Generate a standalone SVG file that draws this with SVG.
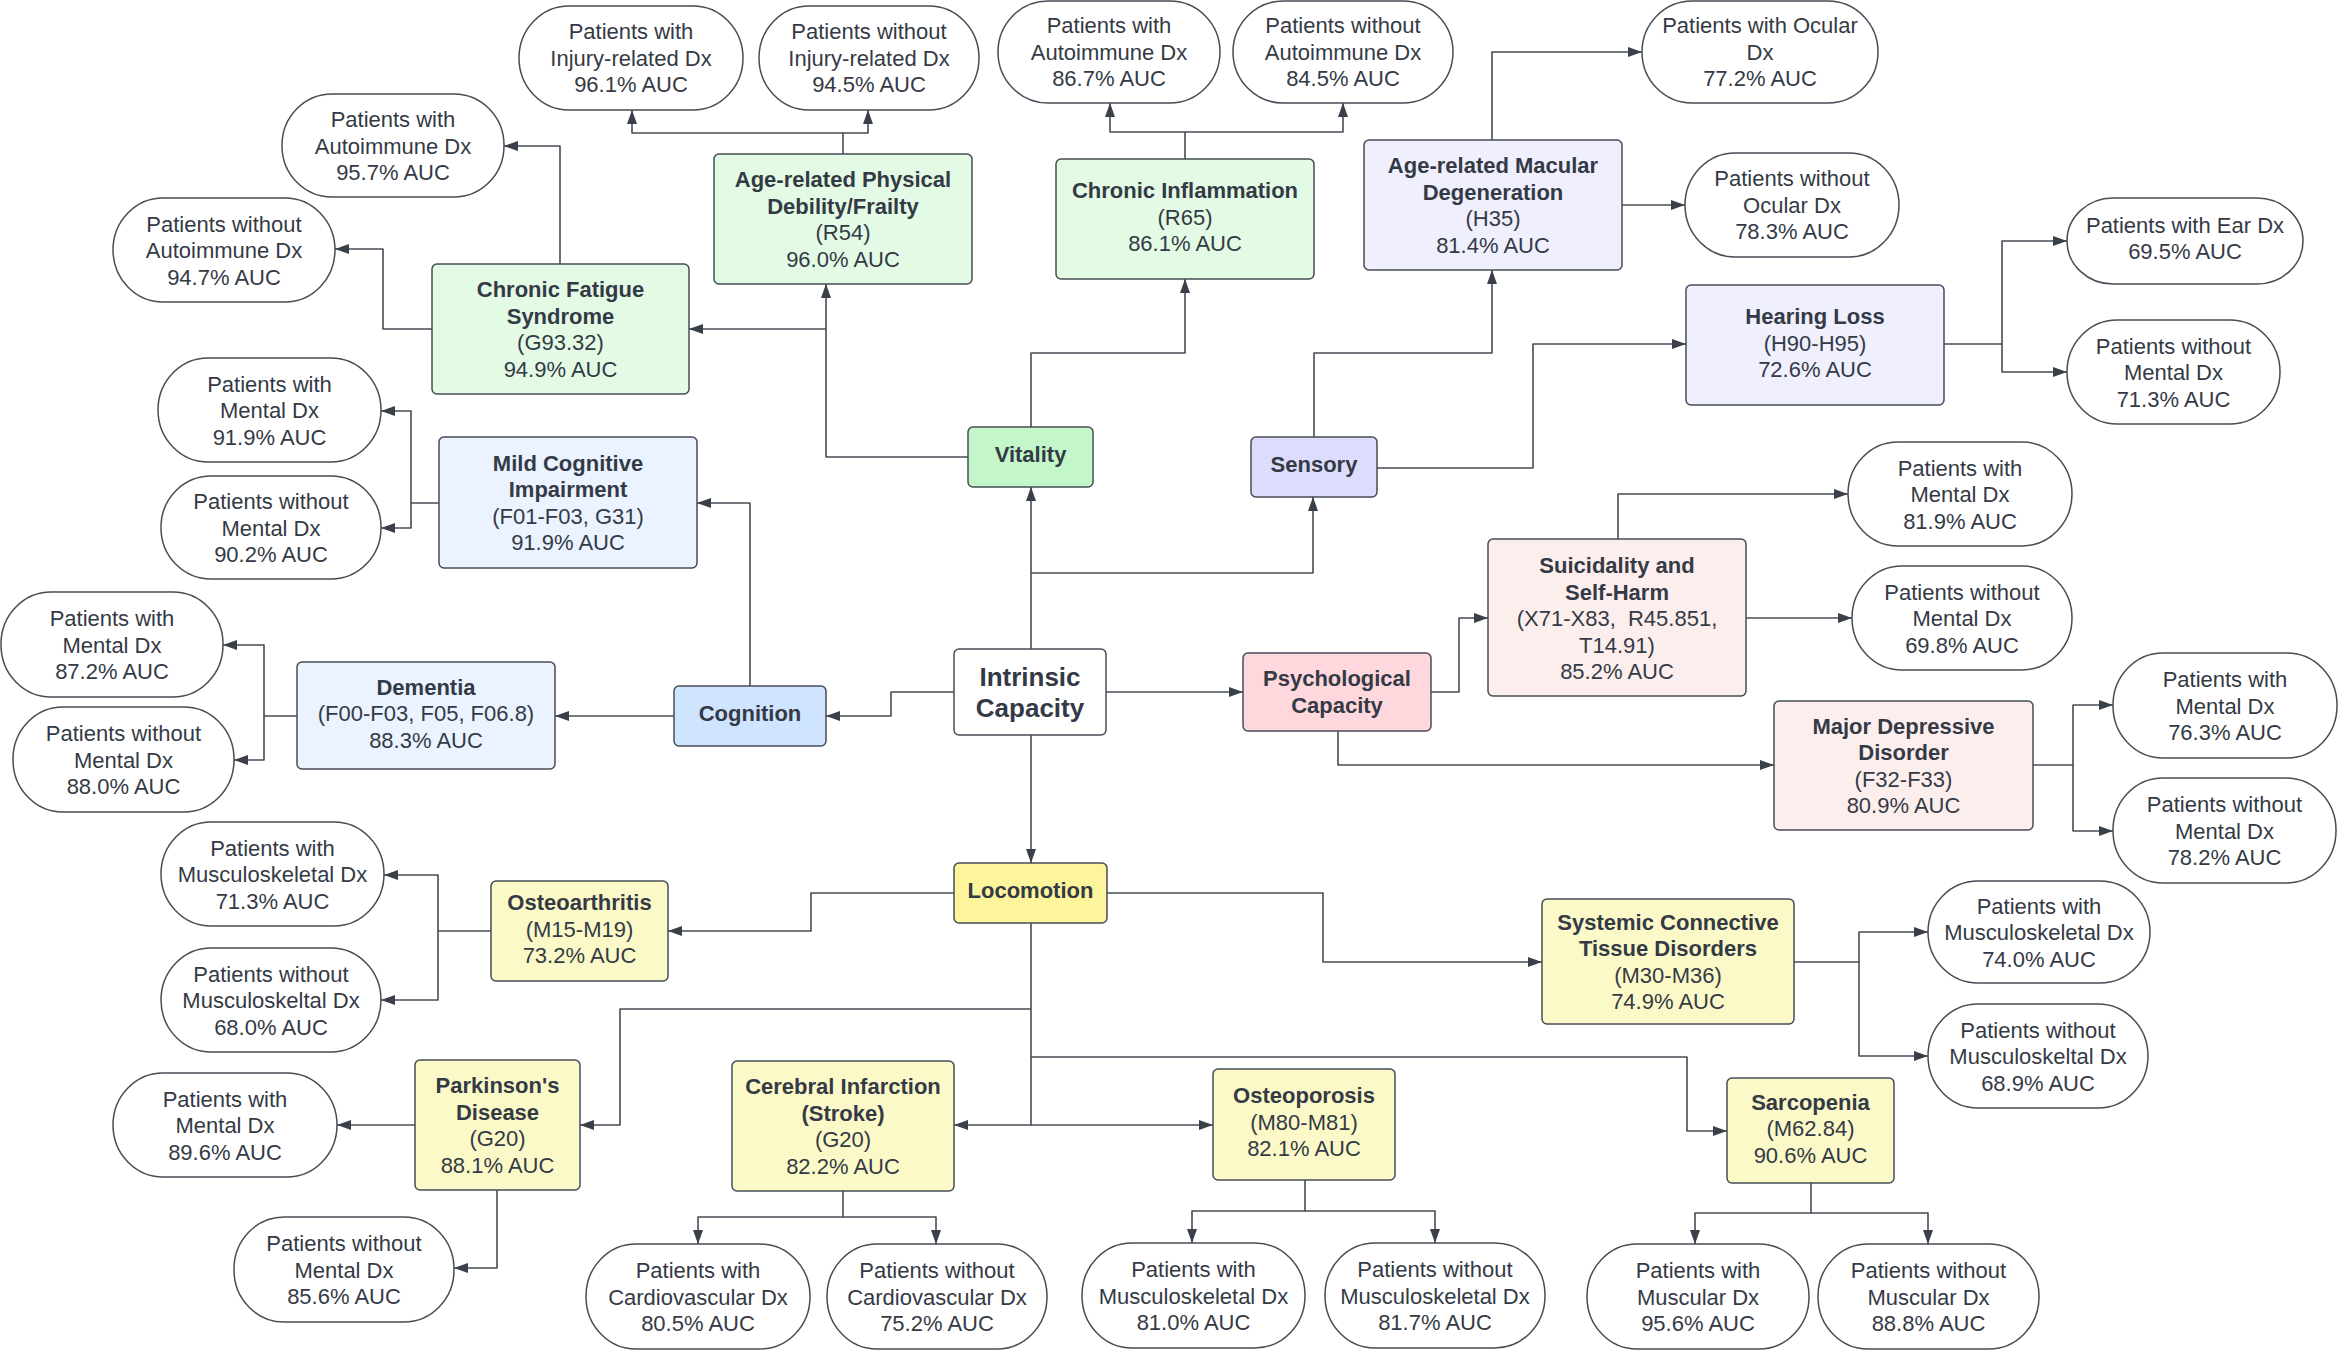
<svg xmlns="http://www.w3.org/2000/svg" width="2338" height="1350" viewBox="0 0 2338 1350">
<style>
text{font-family:"Liberation Sans",Arial,sans-serif;font-size:22px;fill:#343a45;text-anchor:middle}
.b{font-weight:bold}
.big{font-size:26px;font-weight:bold}
.n rect{stroke:#474d56;stroke-width:1.5}
.p rect{fill:#ffffff;stroke:#474d56;stroke-width:1.5}
.ic{fill:#ffffff}
.vit{fill:#c3f6c8}.vits{fill:#e3fae4}
.sen{fill:#dddcfc}.sens{fill:#efeffe}
.cog{fill:#cfe4ff}.cogs{fill:#eaf3ff}
.psy{fill:#fed8dc}.psys{fill:#fdeeee}
.loc{fill:#fdf59c}.locs{fill:#fbf9c8}
#connectors path{fill:none;stroke:#474d56;stroke-width:1.6;stroke-linejoin:round;marker-end:url(#ah)}
</style>
<defs>
<marker id="ah" viewBox="0 0 14 10" markerWidth="14" markerHeight="10" refX="14" refY="5" orient="auto" markerUnits="userSpaceOnUse">
<path d="M0,0 L14,5 L0,10 z" fill="#3a4049"/>
</marker>
</defs>
<rect width="2338" height="1350" fill="#ffffff"/>

<g id="connectors">
<path d="M1031,649 V487"/>
<path d="M1031,573 H1313 V497"/>
<path d="M954,692 H891 V716 H826"/>
<path d="M1106,692 H1243"/>
<path d="M1031,735 V863"/>
<path d="M968,457 H826 V284"/>
<path d="M826,329 H689"/>
<path d="M1031,427 V353 H1185 V279"/>
<path d="M843,154 V133 H632 V110"/>
<path d="M843,133 H868 V110"/>
<path d="M560,264 V146 H504"/>
<path d="M432,329 H383 V249 H335"/>
<path d="M1185,159 V132 H1110 V103"/>
<path d="M1185,132 H1343 V103"/>
<path d="M1314,437 V353 H1492 V270"/>
<path d="M1492,140 V52 H1642"/>
<path d="M1622,205 H1685"/>
<path d="M1377,468 H1533 V344 H1686"/>
<path d="M1944,344 H2002 V241 H2067"/>
<path d="M2002,344 V372 H2067"/>
<path d="M750,686 V503 H697"/>
<path d="M674,716 H555"/>
<path d="M439,503 H411 V411 H381"/>
<path d="M411,503 V528 H381"/>
<path d="M297,716 H264 V645 H223"/>
<path d="M264,716 V760 H234"/>
<path d="M1431,692 H1459 V618 H1488"/>
<path d="M1338,731 V765 H1774"/>
<path d="M1618,539 V494 H1848"/>
<path d="M1746,618 H1852"/>
<path d="M2033,765 H2073 V705 H2113"/>
<path d="M2073,765 V831 H2113"/>
<path d="M954,893 H811 V931 H668"/>
<path d="M491,931 H438 V875 H384"/>
<path d="M438,931 V1000 H381"/>
<path d="M1031,923 V1125 H954"/>
<path d="M1031,1125 H1213"/>
<path d="M1031,1009 H620 V1125 H580"/>
<path d="M1031,1057 H1687 V1131 H1727"/>
<path d="M1107,893 H1323 V962 H1542"/>
<path d="M415,1125 H337"/>
<path d="M497,1190 V1268 H454"/>
<path d="M843,1191 V1217 H698 V1244"/>
<path d="M843,1217 H936 V1244"/>
<path d="M1305,1180 V1211 H1192 V1243"/>
<path d="M1305,1211 H1435 V1243"/>
<path d="M1794,962 H1859 V932 H1928"/>
<path d="M1859,962 V1056 H1928"/>
<path d="M1811,1183 V1213 H1695 V1244"/>
<path d="M1811,1213 H1928 V1244"/>
</g>

<!-- central and domain nodes -->
<g id="intrinsic" class="n"><rect class="ic" x="954" y="649" width="152" height="86" rx="5"/><text class="big" x="1030" y="685.5">Intrinsic</text><text class="big" x="1030" y="717">Capacity</text></g>
<g id="vitality" class="n"><rect class="vit" x="968" y="427" width="125" height="60" rx="5"/><text class="b" x="1030.5" y="462">Vitality</text></g>
<g id="sensory" class="n"><rect class="sen" x="1251" y="437" width="126" height="60" rx="5"/><text class="b" x="1314" y="472">Sensory</text></g>
<g id="cognition" class="n"><rect class="cog" x="674" y="686" width="152" height="60" rx="5"/><text class="b" x="750" y="721">Cognition</text></g>
<g id="psych" class="n"><rect class="psy" x="1243" y="653" width="188" height="78" rx="5"/><text class="b" x="1337" y="686">Psychological</text><text class="b" x="1337" y="712.5">Capacity</text></g>
<g id="locomotion" class="n"><rect class="loc" x="954" y="863" width="153" height="60" rx="5"/><text class="b" x="1030.5" y="898">Locomotion</text></g>

<!-- condition nodes -->
<g id="cfs" class="n"><rect class="vits" x="432" y="264" width="257" height="130" rx="5"/><text class="b" x="560.5" y="297.25">Chronic Fatigue</text><text class="b" x="560.5" y="323.75">Syndrome</text><text x="560.5" y="350.25">(G93.32)</text><text x="560.5" y="376.75">94.9% AUC</text></g>
<g id="frailty" class="n"><rect class="vits" x="714" y="154" width="258" height="130" rx="5"/><text class="b" x="843" y="187.25">Age-related Physical</text><text class="b" x="843" y="213.75">Debility/Frailty</text><text x="843" y="240.25">(R54)</text><text x="843" y="266.75">96.0% AUC</text></g>
<g id="inflammation" class="n"><rect class="vits" x="1056" y="159" width="258" height="120" rx="5"/><text class="b" x="1185" y="198">Chronic Inflammation</text><text x="1185" y="224.5">(R65)</text><text x="1185" y="251">86.1% AUC</text></g>
<g id="amd" class="n"><rect class="sens" x="1364" y="140" width="258" height="130" rx="5"/><text class="b" x="1493" y="173.25">Age-related Macular</text><text class="b" x="1493" y="199.75">Degeneration</text><text x="1493" y="226.25">(H35)</text><text x="1493" y="252.75">81.4% AUC</text></g>
<g id="hearing" class="n"><rect class="sens" x="1686" y="285" width="258" height="120" rx="5"/><text class="b" x="1815" y="324">Hearing Loss</text><text x="1815" y="350.5">(H90-H95)</text><text x="1815" y="377">72.6% AUC</text></g>
<g id="mci" class="n"><rect class="cogs" x="439" y="437" width="258" height="131" rx="5"/><text class="b" x="568" y="470.75">Mild Cognitive</text><text class="b" x="568" y="497.25">Impairment</text><text x="568" y="523.75">(F01-F03, G31)</text><text x="568" y="550.25">91.9% AUC</text></g>
<g id="dementia" class="n"><rect class="cogs" x="297" y="662" width="258" height="107" rx="5"/><text class="b" x="426" y="694.5">Dementia</text><text x="426" y="721">(F00-F03, F05, F06.8)</text><text x="426" y="747.5">88.3% AUC</text></g>
<g id="suicidality" class="n"><rect class="psys" x="1488" y="539" width="258" height="157" rx="5"/><text class="b" x="1617" y="573">Suicidality and</text><text class="b" x="1617" y="599.5">Self-Harm</text><text x="1617" y="626" xml:space="preserve">(X71-X83,  R45.851,</text><text x="1617" y="652.5">T14.91)</text><text x="1617" y="679">85.2% AUC</text></g>
<g id="mdd" class="n"><rect class="psys" x="1774" y="701" width="259" height="129" rx="5"/><text class="b" x="1903.5" y="733.75">Major Depressive</text><text class="b" x="1903.5" y="760.25">Disorder</text><text x="1903.5" y="786.75">(F32-F33)</text><text x="1903.5" y="813.25">80.9% AUC</text></g>
<g id="osteoarthritis" class="n"><rect class="locs" x="491" y="881" width="177" height="100" rx="5"/><text class="b" x="579.5" y="910">Osteoarthritis</text><text x="579.5" y="936.5">(M15-M19)</text><text x="579.5" y="963">73.2% AUC</text></g>
<g id="sctd" class="n"><rect class="locs" x="1542" y="899" width="252" height="125" rx="5"/><text class="b" x="1668" y="929.75">Systemic Connective</text><text class="b" x="1668" y="956.25">Tissue Disorders</text><text x="1668" y="982.75">(M30-M36)</text><text x="1668" y="1009.25">74.9% AUC</text></g>
<g id="parkinsons" class="n"><rect class="locs" x="415" y="1060" width="165" height="130" rx="5"/><text class="b" x="497.5" y="1093.25">Parkinson's</text><text class="b" x="497.5" y="1119.75">Disease</text><text x="497.5" y="1146.25">(G20)</text><text x="497.5" y="1172.75">88.1% AUC</text></g>
<g id="stroke" class="n"><rect class="locs" x="732" y="1061" width="222" height="130" rx="5"/><text class="b" x="843" y="1094.25">Cerebral Infarction</text><text class="b" x="843" y="1120.75">(Stroke)</text><text x="843" y="1147.25">(G20)</text><text x="843" y="1173.75">82.2% AUC</text></g>
<g id="osteoporosis" class="n"><rect class="locs" x="1213" y="1069" width="182" height="111" rx="5"/><text class="b" x="1304" y="1103">Osteoporosis</text><text x="1304" y="1129.5">(M80-M81)</text><text x="1304" y="1156">82.1% AUC</text></g>
<g id="sarcopenia" class="n"><rect class="locs" x="1727" y="1078" width="167" height="105" rx="5"/><text class="b" x="1810.5" y="1109.5">Sarcopenia</text><text x="1810.5" y="1136">(M62.84)</text><text x="1810.5" y="1162.5">90.6% AUC</text></g>

<!-- outcome nodes -->
<g id="p1" class="p"><rect x="519" y="6" width="224" height="104" rx="50" ry="52"/><text x="631" y="39">Patients with</text><text x="631" y="65.5">Injury-related Dx</text><text x="631" y="92">96.1% AUC</text></g>
<g id="p2" class="p"><rect x="759" y="6" width="220" height="104" rx="50" ry="52"/><text x="869" y="39">Patients without</text><text x="869" y="65.5">Injury-related Dx</text><text x="869" y="92">94.5% AUC</text></g>
<g id="p3" class="p"><rect x="282" y="94" width="222" height="103" rx="50" ry="51"/><text x="393" y="127">Patients with</text><text x="393" y="153.5">Autoimmune Dx</text><text x="393" y="180">95.7% AUC</text></g>
<g id="p4" class="p"><rect x="113" y="198" width="222" height="104" rx="50" ry="52"/><text x="224" y="231.5">Patients without</text><text x="224" y="258">Autoimmune Dx</text><text x="224" y="284.5">94.7% AUC</text></g>
<g id="p5" class="p"><rect x="998" y="1" width="222" height="102" rx="50" ry="51"/><text x="1109" y="33">Patients with</text><text x="1109" y="59.5">Autoimmune Dx</text><text x="1109" y="86">86.7% AUC</text></g>
<g id="p6" class="p"><rect x="1233" y="1" width="220" height="102" rx="50" ry="51"/><text x="1343" y="33">Patients without</text><text x="1343" y="59.5">Autoimmune Dx</text><text x="1343" y="86">84.5% AUC</text></g>
<g id="p7" class="p"><rect x="1642" y="1" width="236" height="102" rx="50" ry="51"/><text x="1760" y="33">Patients with Ocular</text><text x="1760" y="59.5">Dx</text><text x="1760" y="86">77.2% AUC</text></g>
<g id="p8" class="p"><rect x="1685" y="153" width="214" height="104" rx="50" ry="52"/><text x="1792" y="186">Patients without</text><text x="1792" y="212.5">Ocular Dx</text><text x="1792" y="239">78.3% AUC</text></g>
<g id="p9" class="p"><rect x="2067" y="198" width="236" height="86" rx="46" ry="43"/><text x="2185" y="232.5">Patients with Ear Dx</text><text x="2185" y="259">69.5% AUC</text></g>
<g id="p10" class="p"><rect x="2067" y="320" width="213" height="104" rx="50" ry="52"/><text x="2173.5" y="353.5">Patients without</text><text x="2173.5" y="380">Mental Dx</text><text x="2173.5" y="406.5">71.3% AUC</text></g>
<g id="p11" class="p"><rect x="158" y="358" width="223" height="104" rx="50" ry="52"/><text x="269.5" y="391.5">Patients with</text><text x="269.5" y="418">Mental Dx</text><text x="269.5" y="444.5">91.9% AUC</text></g>
<g id="p12" class="p"><rect x="161" y="476" width="220" height="103" rx="50" ry="51"/><text x="271" y="509">Patients without</text><text x="271" y="535.5">Mental Dx</text><text x="271" y="562">90.2% AUC</text></g>
<g id="p13" class="p"><rect x="1" y="592" width="222" height="105" rx="50" ry="52"/><text x="112" y="626">Patients with</text><text x="112" y="652.5">Mental Dx</text><text x="112" y="679">87.2% AUC</text></g>
<g id="p14" class="p"><rect x="13" y="707" width="221" height="105" rx="50" ry="52"/><text x="123.5" y="741">Patients without</text><text x="123.5" y="767.5">Mental Dx</text><text x="123.5" y="794">88.0% AUC</text></g>
<g id="p15" class="p"><rect x="1848" y="442" width="224" height="104" rx="50" ry="52"/><text x="1960" y="475.5">Patients with</text><text x="1960" y="502">Mental Dx</text><text x="1960" y="528.5">81.9% AUC</text></g>
<g id="p16" class="p"><rect x="1852" y="566" width="220" height="104" rx="50" ry="52"/><text x="1962" y="599.5">Patients without</text><text x="1962" y="626">Mental Dx</text><text x="1962" y="652.5">69.8% AUC</text></g>
<g id="p17" class="p"><rect x="2113" y="653" width="224" height="105" rx="50" ry="52"/><text x="2225" y="687">Patients with</text><text x="2225" y="713.5">Mental Dx</text><text x="2225" y="740">76.3% AUC</text></g>
<g id="p18" class="p"><rect x="2113" y="778" width="223" height="105" rx="50" ry="52"/><text x="2224.5" y="812">Patients without</text><text x="2224.5" y="838.5">Mental Dx</text><text x="2224.5" y="865">78.2% AUC</text></g>
<g id="p19" class="p"><rect x="161" y="822" width="223" height="104" rx="50" ry="52"/><text x="272.5" y="855.5">Patients with</text><text x="272.5" y="882">Musculoskeletal Dx</text><text x="272.5" y="908.5">71.3% AUC</text></g>
<g id="p20" class="p"><rect x="161" y="948" width="220" height="104" rx="50" ry="52"/><text x="271" y="981.5">Patients without</text><text x="271" y="1008">Musculoskeltal Dx</text><text x="271" y="1034.5">68.0% AUC</text></g>
<g id="p21" class="p"><rect x="1928" y="881" width="222" height="102" rx="50" ry="51"/><text x="2039" y="913.5">Patients with</text><text x="2039" y="940">Musculoskeletal Dx</text><text x="2039" y="966.5">74.0% AUC</text></g>
<g id="p22" class="p"><rect x="1928" y="1004" width="220" height="104" rx="50" ry="52"/><text x="2038" y="1037.5">Patients without</text><text x="2038" y="1064">Musculoskeltal Dx</text><text x="2038" y="1090.5">68.9% AUC</text></g>
<g id="p23" class="p"><rect x="113" y="1073" width="224" height="104" rx="50" ry="52"/><text x="225" y="1106.5">Patients with</text><text x="225" y="1133">Mental Dx</text><text x="225" y="1159.5">89.6% AUC</text></g>
<g id="p24" class="p"><rect x="234" y="1217" width="220" height="105" rx="50" ry="52"/><text x="344" y="1251">Patients without</text><text x="344" y="1277.5">Mental Dx</text><text x="344" y="1304">85.6% AUC</text></g>
<g id="p25" class="p"><rect x="586" y="1244" width="224" height="105" rx="50" ry="52"/><text x="698" y="1278">Patients with</text><text x="698" y="1304.5">Cardiovascular Dx</text><text x="698" y="1331">80.5% AUC</text></g>
<g id="p26" class="p"><rect x="827" y="1244" width="220" height="105" rx="50" ry="52"/><text x="937" y="1278">Patients without</text><text x="937" y="1304.5">Cardiovascular Dx</text><text x="937" y="1331">75.2% AUC</text></g>
<g id="p27" class="p"><rect x="1082" y="1243" width="223" height="105" rx="50" ry="52"/><text x="1193.5" y="1277">Patients with</text><text x="1193.5" y="1303.5">Musculoskeletal Dx</text><text x="1193.5" y="1330">81.0% AUC</text></g>
<g id="p28" class="p"><rect x="1325" y="1243" width="220" height="105" rx="50" ry="52"/><text x="1435" y="1277">Patients without</text><text x="1435" y="1303.5">Musculoskeletal Dx</text><text x="1435" y="1330">81.7% AUC</text></g>
<g id="p29" class="p"><rect x="1587" y="1244" width="222" height="105" rx="50" ry="52"/><text x="1698" y="1278">Patients with</text><text x="1698" y="1304.5">Muscular Dx</text><text x="1698" y="1331">95.6% AUC</text></g>
<g id="p30" class="p"><rect x="1818" y="1244" width="221" height="105" rx="50" ry="52"/><text x="1928.5" y="1278">Patients without</text><text x="1928.5" y="1304.5">Muscular Dx</text><text x="1928.5" y="1331">88.8% AUC</text></g>
</svg>
